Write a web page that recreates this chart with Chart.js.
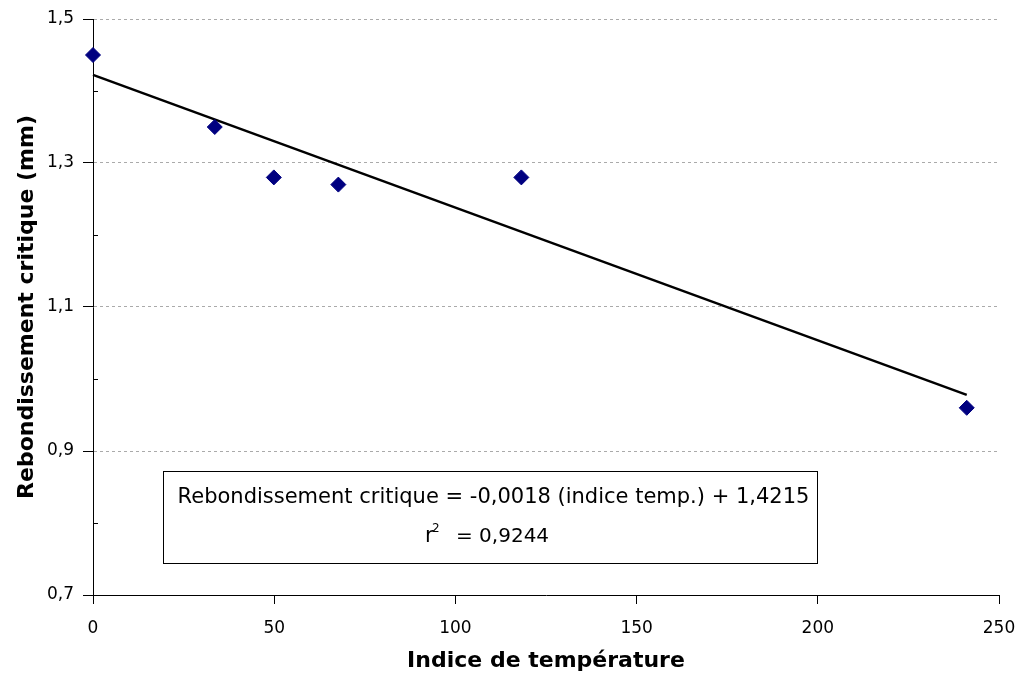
<!DOCTYPE html>
<html><head><meta charset="utf-8">
<script src="https://cdn.jsdelivr.net/npm/chart.js@4/dist/chart.umd.min.js"></script>
<style>html,body{margin:0;padding:0;background:#fff}#wrap{width:1024px;height:675px}</style>
</head><body><div id="wrap"><canvas id="c" width="1024" height="675"></canvas></div>
<script>
// Data
const tempIndex = [0, 33.6, 49.9, 67.7, 118.2, 241.1];
const rebound   = [1.45, 1.35, 1.28, 1.27, 1.28, 0.96];
const trendX    = [0, 241.1];
const trendY    = [1.4225, 0.978];
const xTitle = 'Indice de température';
const yTitle = 'Rebondissement critique (mm)';
const eqLine1 = 'Rebondissement critique = -0,0018 (indice temp.) + 1,4215';
const eqLine2a = 'r';
const eqLine2sup = '2';
const eqLine2b = '= 0,9244';
const minorTicks = [0.8, 1.0, 1.2, 1.4];

const FONT = "'DejaVu Sans', Verdana, sans-serif";
const EQFONT = "'DejaVu Sans', sans-serif";
const isMajor = v => Math.round(v * 10) % 2 === 1;

const extras = {
  id: 'extras',
  afterDatasetsDraw(chart) {
    const ctx = chart.ctx;
    const y = chart.scales.y, x = chart.scales.x;
    ctx.save();
    // minor inner ticks
    ctx.strokeStyle = '#000'; ctx.lineWidth = 1;
    minorTicks.forEach(v => {
      const py = Math.round(y.getPixelForValue(v)) + 0.5;
      ctx.beginPath(); ctx.moveTo(x.left, py); ctx.lineTo(x.left + 5, py); ctx.stroke();
    });
    // equation box
    const bx = 163.5, by = 471.5, bw = 654, bh = 92;
    ctx.fillStyle = '#fff';
    ctx.fillRect(bx, by, bw, bh);
    ctx.strokeStyle = '#000'; ctx.lineWidth = 1;
    ctx.strokeRect(bx, by, bw, bh);
    ctx.fillStyle = '#000';
    ctx.font = '21px ' + EQFONT;
    ctx.textBaseline = 'alphabetic';
    ctx.textAlign = 'center';
    ctx.fillText(eqLine1, 493.5, 503);
    ctx.textAlign = 'left';
    ctx.fillText(eqLine2a, 425, 542);
    ctx.font = '12px ' + EQFONT;
    ctx.fillText(eqLine2sup, 432, 532);
    ctx.font = '20px ' + EQFONT;
    ctx.fillText(eqLine2b, 456, 542);
    ctx.restore();
  }
};

new Chart(document.getElementById('c'), {
  type: 'scatter',
  data: {
    datasets: [
      {
        label: 'Rebondissement',
        data: tempIndex.map((v, i) => ({x: v, y: rebound[i]})),
        pointStyle: 'rectRot',
        pointRadius: 7.5,
        pointBackgroundColor: '#000080',
        pointBorderColor: '#000080',
        pointBorderWidth: 1,
        showLine: false,
        clip: false,
        order: 1
      },
      {
        label: 'Tendance',
        data: trendX.map((v, i) => ({x: v, y: trendY[i]})),
        showLine: true,
        borderColor: '#000',
        borderWidth: 2.5,
        pointRadius: 0,
        fill: false,
        clip: false,
        order: 2
      }
    ]
  },
  options: {
    responsive: false,
    animation: false,
    devicePixelRatio: 1,
    layout: { padding: { top: 19, right: 25, left: 0, bottom: 0 } },
    plugins: { legend: { display: false }, tooltip: { enabled: false } },
    scales: {
      x: {
        type: 'linear', min: 0, max: 250,
        afterFit(s) { s.height = 80; s.paddingLeft = 0; s.paddingRight = 0; },
        ticks: { stepSize: 50, color: '#000', padding: 14, font: { family: FONT, size: 17 } },
        grid: { drawOnChartArea: false, drawTicks: true, tickLength: 9, tickColor: '#000', tickBorderDash: [] },
        border: { color: '#000', width: 1 },
        title: { display: true, text: xTitle, color: '#000', font: { family: FONT, size: 22, weight: 'bold' }, padding: { top: 0, bottom: 1 } }
      },
      y: {
        type: 'linear', min: 0.7, max: 1.5,
        afterFit(s) { s.width = 93; s.paddingTop = 0; s.paddingBottom = 0; },
        ticks: {
          stepSize: 0.1, color: '#000', padding: 9, autoSkip: false,
          font: { family: FONT, size: 17 },
          callback: v => isMajor(v) ? v.toFixed(1).replace('.', ',') : ''
        },
        grid: {
          drawTicks: true, tickLength: 10,
          color: c => (isMajor(c.tick.value) && Math.abs(c.tick.value - 0.7) > 1e-6) ? '#aaaaaa' : 'rgba(0,0,0,0)',
          tickColor: c => isMajor(c.tick.value) ? '#000' : 'rgba(0,0,0,0)',
          tickBorderDash: [], lineWidth: 1
        },
        border: { color: '#000', width: 1, dash: [3, 3] },
        title: { display: true, text: yTitle, color: '#000', font: { family: FONT, size: 22, weight: 'bold' }, padding: { top: 14, bottom: 0 } }
      }
    }
  },
  plugins: [extras]
});
</script></body></html>
